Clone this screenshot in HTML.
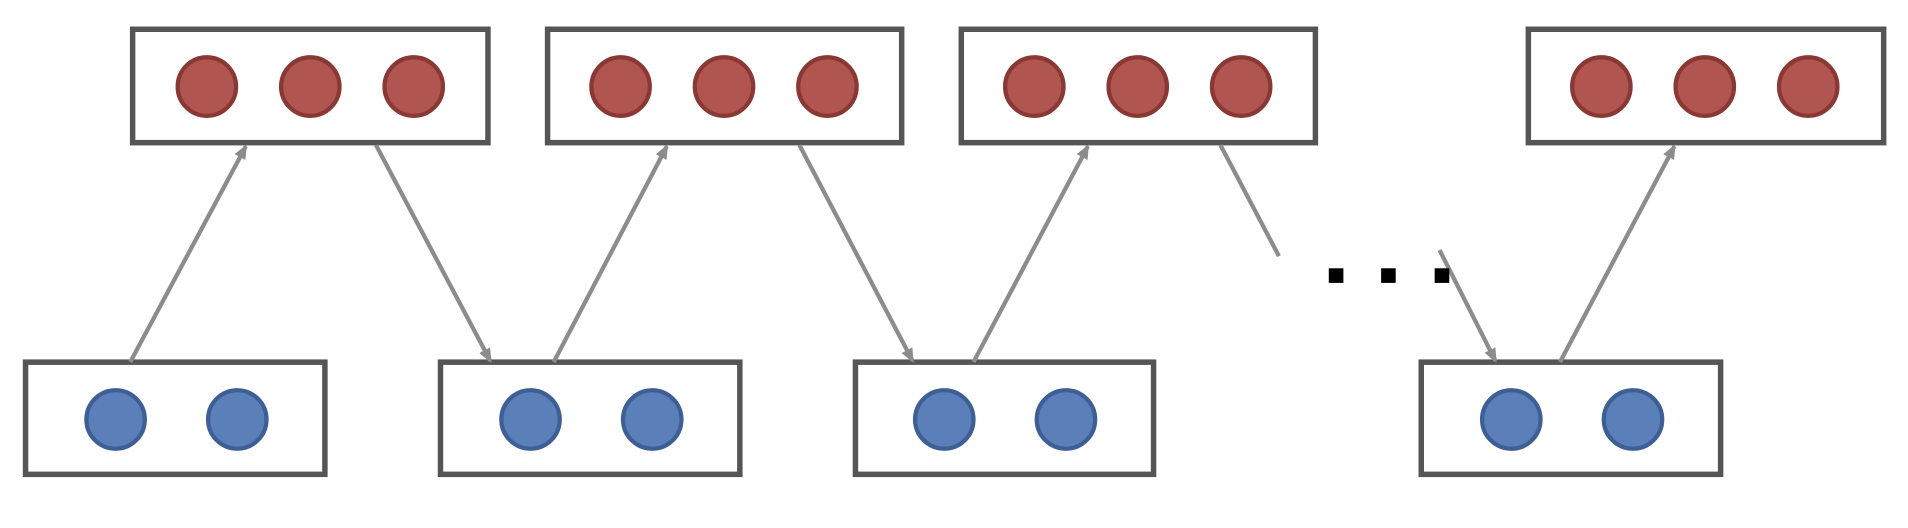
<!DOCTYPE html>
<html><head><meta charset="utf-8"><style>html,body{margin:0;padding:0;background:#fff}svg{display:block}</style></head>
<body>
<svg width="1908" height="528" viewBox="0 0 1568 433" preserveAspectRatio="none" xmlns="http://www.w3.org/2000/svg">
<defs>
<marker id="a" markerWidth="12" markerHeight="10" refX="10" refY="5" orient="auto" markerUnits="userSpaceOnUse"><path d="M0,0 L12,5 L0,10 Z" fill="#8c8c8c"/></marker>
</defs>
<g fill="#fff" stroke="#555" stroke-width="4.5">
<rect x="109" y="24" width="292" height="93"/>
<rect x="450" y="24" width="291" height="93"/>
<rect x="790" y="24" width="291" height="93"/>
<rect x="1256" y="24" width="292" height="93"/>
<rect x="21" y="297" width="246" height="92"/>
<rect x="362" y="297" width="246" height="92"/>
<rect x="703" y="297" width="245" height="92"/>
<rect x="1168" y="297" width="246" height="92"/>
</g>
<g fill="#b0554f" stroke="#8a3833" stroke-width="3.5">
<circle cx="170" cy="71" r="24"/><circle cx="255" cy="71" r="24"/><circle cx="340" cy="71" r="24"/>
<circle cx="510" cy="71" r="24"/><circle cx="595" cy="71" r="24"/><circle cx="680" cy="71" r="24"/>
<circle cx="850" cy="71" r="24"/><circle cx="935" cy="71" r="24"/><circle cx="1020" cy="71" r="24"/>
<circle cx="1316" cy="71" r="24"/><circle cx="1401" cy="71" r="24"/><circle cx="1486" cy="71" r="24"/>
</g>
<g fill="#5b7fb8" stroke="#3e5f96" stroke-width="3.5">
<circle cx="95" cy="344" r="24"/><circle cx="195" cy="344" r="24"/>
<circle cx="436" cy="344" r="24"/><circle cx="536" cy="344" r="24"/>
<circle cx="776" cy="344" r="24"/><circle cx="876" cy="344" r="24"/>
<circle cx="1242" cy="344" r="24"/><circle cx="1342" cy="344" r="24"/>
</g>
<g stroke="#8c8c8c" stroke-width="3.5" fill="none">
<line x1="107" y1="297" x2="202" y2="120" marker-end="url(#a)"/>
<line x1="309" y1="119" x2="403" y2="296" marker-end="url(#a)"/>
<line x1="455" y1="297" x2="548" y2="120" marker-end="url(#a)"/>
<line x1="657" y1="119" x2="750" y2="296" marker-end="url(#a)"/>
<line x1="800" y1="297" x2="894" y2="120" marker-end="url(#a)"/>
<line x1="1003" y1="119" x2="1051" y2="210"/>
<line x1="1183" y1="205" x2="1229" y2="296" marker-end="url(#a)"/>
<line x1="1282" y1="297" x2="1376" y2="120" marker-end="url(#a)"/>
</g>
<g fill="#000">
<rect x="1092" y="220" width="12" height="12"/>
<rect x="1135" y="220" width="12" height="12"/>
<rect x="1179" y="220" width="12" height="12"/>
</g>
</svg>
</body></html>
